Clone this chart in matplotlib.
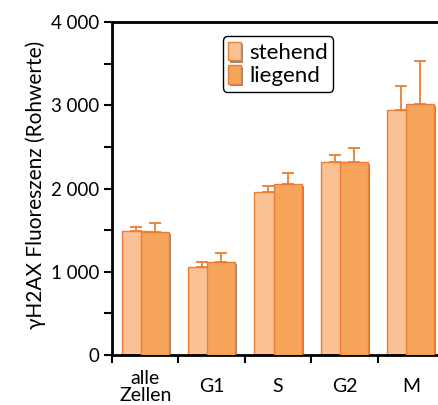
import matplotlib
matplotlib.use("Agg")
import matplotlib.pyplot as plt
import matplotlib.patheffects as pe
import numpy as np

categories = ["alle\nZellen", "G1", "S", "G2", "M"]
stehend = [1490, 1061, 1962, 2318, 2943]
stehend_err = [51, 52, 72, 81, 288]
liegend = [1474, 1117, 2050, 2318, 3011]
liegend_err = [108, 104, 140, 172, 524]
yticks = [0, 1000, 2000, 3000, 4000]
yticklabels = ["0", "1 000", "2 000", "3 000", "4 000"]

plt.rcParams['font.family'] = ['Lato', 'DejaVu Sans']

fig = plt.figure(figsize=(4.38, 4.05), dpi=100)
ax = fig.add_axes([112/438, 50/405, 332/438, 333/405])

x = np.arange(len(categories))
w = 0.42
off = 0.145
c_st = "#FBC194"
c_li = "#F6A35B"
c_edge = "#ED7D31"
shadow = [pe.SimplePatchShadow(offset=(1.5, -1.5), shadow_rgbFace='k', alpha=0.45), pe.Normal()]

b1 = ax.bar(x - off, stehend, w, color=c_st, edgecolor=c_edge, linewidth=1.0, zorder=2, label="stehend")
for p in b1:
    p.set_path_effects(shadow)
ax.errorbar(x - off, stehend, yerr=[np.zeros(len(stehend)), stehend_err], fmt='none',
            ecolor=c_edge, elinewidth=1.3, capsize=4, capthick=1.3, zorder=2.5)
b2 = ax.bar(x + off, liegend, w, color=c_li, edgecolor=c_edge, linewidth=1.0, zorder=3, label="liegend")
for p in b2:
    p.set_path_effects(shadow)
ax.errorbar(x + off, liegend, yerr=[np.zeros(len(liegend)), liegend_err], fmt='none',
            ecolor=c_edge, elinewidth=1.3, capsize=4, capthick=1.3, zorder=3.5)

ax.set_xlim(-0.5, len(categories) - 0.5)
ax.set_ylim(0, 4000)
ax.set_yticks(yticks)
ax.set_yticklabels(yticklabels, fontsize=13.5)
ax.set_yticks(np.arange(500, 4000, 1000), minor=True)
ax.set_xticks(np.arange(-0.5, len(categories), 1.0))
ax.set_xticklabels([])
ax.set_xticks(x, minor=True)
ax.set_xticklabels(categories, minor=True, fontsize=14, linespacing=1.05)
for lab in ax.get_xticklabels(minor=True):
    lab.set_verticalalignment('center')
ax.tick_params(axis='x', which='minor', length=0, pad=23)
ax.tick_params(axis='x', which='major', length=6, width=1.5, direction='out')
ax.tick_params(axis='y', which='both', length=6, width=1.5, direction='out', pad=3)

for s in ax.spines.values():
    s.set_linewidth(2)
    s.set_color('black')

ax.set_ylabel("γH2AX Fluoreszenz (Rohwerte)", fontsize=15)
ax.yaxis.set_label_coords(-0.20, 0.51)

leg = ax.legend(loc='upper center', bbox_to_anchor=(0.5, 0.99), fontsize=16, frameon=True,
                fancybox=True, edgecolor='black', handlelength=0.6, handleheight=0.9,
                handletextpad=0.35, borderpad=0.25, labelspacing=0.1)
leg.get_frame().set_linewidth(1.0)
leg.get_frame().set_alpha(1)

fig.savefig("out.png", dpi=100)
